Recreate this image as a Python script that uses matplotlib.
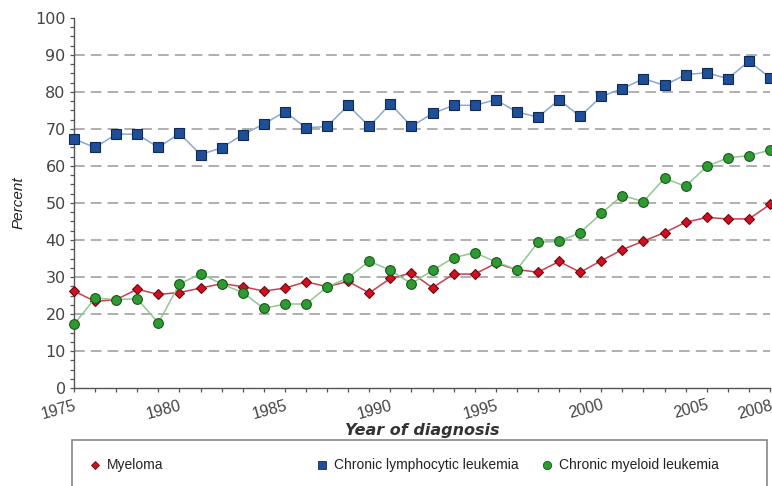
import matplotlib
matplotlib.use("Agg")
import matplotlib.pyplot as plt
from matplotlib.lines import Line2D
from matplotlib.patches import Rectangle
from matplotlib.ticker import MultipleLocator

years = list(range(1975, 2009))

myeloma = [26.2, 23.4, 23.9, 26.7, 25.3, 25.8, 27.0, 28.2, 27.4, 26.2,
           27.0, 28.7, 27.4, 28.8, 25.7, 29.6, 31.1, 27.1, 30.8, 30.8,
           33.7, 32.0, 31.3, 34.2, 31.3, 34.4, 37.4, 39.7, 42.0, 44.8,
           46.1, 45.7, 45.7, 49.6]

cll = [67.3, 65.0, 68.6, 68.6, 65.0, 68.8, 63.1, 64.9, 68.5, 71.3,
       74.7, 70.3, 70.7, 76.4, 70.7, 76.8, 70.7, 74.2, 76.4, 76.4,
       77.9, 74.6, 73.2, 77.9, 73.4, 78.8, 80.9, 83.6, 81.8, 84.7,
       85.2, 83.6, 88.3, 83.9]

cml = [17.2, 24.3, 23.9, 24.1, 17.6, 28.1, 30.9, 28.1, 25.8, 21.5,
       22.7, 22.7, 27.3, 29.8, 34.3, 31.8, 28.2, 31.8, 35.2, 36.6,
       34.1, 32.0, 39.4, 39.6, 42.0, 47.2, 52.0, 50.4, 56.7, 54.5,
       59.9, 62.2, 62.8, 64.3]

xtick_years = [1975, 1980, 1985, 1990, 1995, 2000, 2005, 2008]
labels = ["Myeloma", "Chronic lymphocytic leukemia", "Chronic myeloid leukemia"]

# (line colour, marker, face, edge, size)
styles = [
    ("#c8404f", "D", "#d01020", "#6a0a10", 5.5),
    ("#8aa8cc", "s", "#1f4f98", "#0f2a55", 6.5),
    ("#90c890", "o", "#2f9a32", "#155a17", 7),
]

fig = plt.figure(figsize=(7.72, 4.86), dpi=100)
ax = fig.add_axes([74 / 772, 1 - 388 / 486, 696 / 772, 370 / 486])

for series, (lc, mk, fc, ec, ms) in zip([myeloma, cll, cml], styles):
    ax.plot(years, series, color=lc, linewidth=1.1, marker=mk, markersize=ms,
            markerfacecolor=fc, markeredgecolor=ec, markeredgewidth=0.8,
            clip_on=False, zorder=3)

ax.set_xlim(1975, 2008)
ax.set_ylim(0, 100)
ax.set_yticks(range(0, 101, 10))
ax.yaxis.set_minor_locator(MultipleLocator(2.5))
ax.set_xticks(xtick_years)
ax.xaxis.set_minor_locator(MultipleLocator(1))

for v in range(10, 100, 10):
    ax.axhline(v, color="#9a9a9a", linewidth=1.1, linestyle=(0, (7, 4)), zorder=1)

for side in ["top", "right"]:
    ax.spines[side].set_visible(False)
for side in ["left", "bottom"]:
    ax.spines[side].set_color("#555555")
    ax.spines[side].set_linewidth(1.0)

ax.tick_params(which="both", direction="out", length=3, color="#555555", width=0.9)
ax.tick_params(axis="y", labelsize=11.5, labelcolor="#444444", pad=3)
ax.tick_params(axis="x", labelsize=11.5, labelcolor="#444444", pad=4)
for lbl in ax.get_xticklabels():
    lbl.set_rotation(15)
    lbl.set_ha("right")
    lbl.set_rotation_mode("anchor")
    lbl.set_family("Liberation Sans")

ax.set_ylabel("Percent", fontsize=11, style="italic", family="Liberation Sans",
              color="#222222", labelpad=7)
ax.set_xlabel("Year of diagnosis", fontsize=11.5, style="italic", fontweight="bold",
              color="#333333", labelpad=1)

# legend box along the bottom
fig.patches.append(Rectangle((72 / 772, -0.2), 695 / 772, 0.2 + (486 - 440) / 486,
                             transform=fig.transFigure, fill=False,
                             edgecolor="#888888", linewidth=1.2))
leg_y = 1 - 465 / 486
for x0, label, (lc, mk, fc, ec, ms) in zip([95, 322, 547], labels, styles):
    fig.add_artist(Line2D([x0 / 772], [leg_y], transform=fig.transFigure,
                          marker=mk, markersize=ms - 1, markerfacecolor=fc,
                          markeredgecolor=ec, markeredgewidth=0.6, linestyle="none"))
    fig.text((x0 + 12) / 772, leg_y, label, fontsize=10, family="Liberation Sans",
             color="#222222", va="center", ha="left")

fig.savefig("out.png", dpi=100)
